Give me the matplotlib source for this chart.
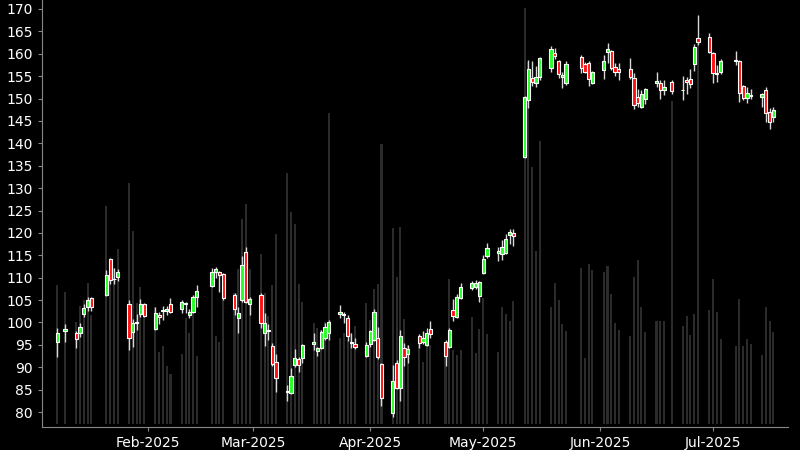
import numpy as np
import pandas as pd
import matplotlib
matplotlib.use("Agg")
import matplotlib.pyplot as plt
import matplotlib.dates as mdates

# ---- data ----
holidays = ["2025-01-09", "2025-01-20", "2025-02-17", "2025-04-18",
            "2025-05-26", "2025-06-19", "2025-07-04"]
dates = pd.bdate_range("2025-01-08", "2025-07-17", freq="C", holidays=holidays)

opens = [95.6, 98.1, 97.6, 97.6, 101.9, 103.4, 105.5, 106.1, 114.2, 109.6, 110.2, 104.1, 97.9, 99.9, 101.9, 104.1,
         98.5, 101.7, 102.5, 102.6, 104.1, 103.0, 104.1, 101.7, 102.3, 105.7, 108.1, 111.3, 111.3, 110.8, 106.1, 101.0, 105.0, 115.7, 104.1,
         106.1, 97.6, 98.2, 94.7, 91.2, 84.5, 84.2, 90.5, 91.8, 92.1, 95.2, 93.6, 94.3, 96.5, 97.6, 101.9, 101.6, 101.0, 95.4, 95.2, 92.5,
         95.2, 96.1, 96.5, 90.7, 79.8, 90.9, 85.4, 94.3, 93.0, 97.0, 95.6, 95.0, 98.5, 95.6, 94.5, 102.8, 101.2, 105.5, 107.7, 107.9, 105.9,
         111.0, 114.8, 115.5, 115.3, 115.5, 119.5, 120.0, 136.9, 149.7, 154.6, 153.5, 154.8, 156.8, 160.2, 158.4, 154.8, 153.5, 159.3, 157.7, 157.9, 153.5,
         156.4, 160.4, 160.6, 157.0, 156.6, 156.6, 154.6, 150.3, 148.1, 149.9, 153.5, 153.5, 151.9, 153.7, 151.8, 154.1, 154.4, 157.7, 163.5, 163.7,
         160.2, 155.4, 155.9, 158.3, 158.4, 152.8, 150.1, 150.5, 150.3, 151.9, 147.0, 145.9]
highs = [98.8, 99.6, 98.1, 99.9, 104.1, 105.7, 105.7, 111.7, 114.4, 112.2, 112.0, 105.0, 100.8, 101.9, 105.2, 104.3,
         103.4, 102.3, 103.7, 103.7, 105.5, 105.0, 104.6, 103.0, 106.1, 108.4, 112.2, 112.4, 111.4, 111.1, 106.6, 103.4, 114.8, 116.8, 105.7,
         106.6, 102.1, 99.6, 95.4, 93.0, 86.0, 89.8, 94.1, 92.3, 95.2, 97.6, 94.5, 98.3, 99.9, 100.5, 103.9, 102.3, 101.7, 97.6, 96.5, 95.6,
         98.3, 103.0, 99.0, 90.9, 90.5, 91.6, 98.3, 95.4, 95.0, 97.4, 98.1, 98.8, 100.3, 96.1, 98.8, 105.2, 106.4, 108.8, 109.3, 109.5, 109.3,
         115.1, 117.7, 116.8, 118.4, 119.7, 120.9, 120.9, 150.6, 158.6, 158.4, 157.3, 159.3, 161.7, 161.3, 158.6, 155.9, 158.4, 159.7, 158.2, 158.4, 156.2,
         159.7, 162.4, 160.8, 157.9, 157.9, 159.0, 155.7, 152.1, 151.9, 152.3, 155.9, 154.1, 154.1, 154.1, 155.0, 154.8, 156.6, 162.2, 168.6, 164.6,
         160.4, 157.5, 158.8, 160.6, 158.6, 153.0, 152.6, 152.1, 151.2, 152.6, 147.9, 148.1]
lows = [92.3, 95.6, 94.3, 96.7, 101.2, 102.6, 102.6, 105.8, 108.6, 108.6, 109.3, 93.9, 94.5, 98.3, 101.2, 101.2,
        98.3, 99.6, 100.5, 101.6, 102.1, 102.1, 102.1, 101.0, 102.1, 103.4, 107.9, 109.9, 106.8, 105.0, 101.7, 97.6, 104.6, 104.3, 101.7,
        98.8, 94.7, 96.1, 90.3, 84.5, 82.4, 84.0, 90.0, 88.9, 90.9, 93.8, 92.5, 94.1, 96.1, 96.1, 101.0, 99.9, 95.9, 94.3, 94.1, 92.3,
        94.5, 95.9, 91.8, 81.3, 78.9, 85.1, 82.5, 90.3, 90.9, 94.3, 95.2, 94.7, 96.5, 90.3, 94.3, 100.3, 101.0, 105.3, 107.3, 107.5, 104.6,
        110.8, 114.4, 113.7, 113.9, 115.3, 117.5, 117.1, 136.7, 147.9, 152.8, 152.6, 154.1, 155.9, 158.8, 154.6, 152.3, 153.0, 155.7, 155.7, 152.8, 153.3,
        154.4, 157.9, 156.4, 155.0, 154.1, 154.4, 147.7, 148.1, 147.9, 148.8, 152.6, 149.9, 150.8, 151.0, 149.7, 151.0, 152.3, 156.1, 162.0, 160.2,
        153.5, 153.7, 155.5, 157.5, 149.2, 149.7, 149.0, 149.9, 148.1, 144.8, 143.2, 144.8]
closes = [97.6, 98.5, 96.3, 99.0, 103.2, 105.0, 103.4, 110.6, 109.5, 109.8, 111.3, 96.5, 99.9, 100.0, 104.1, 101.4,
          102.1, 101.2, 102.6, 102.9, 102.3, 104.6, 104.3, 102.3, 105.7, 107.0, 111.3, 111.9, 110.6, 105.5, 103.0, 102.1, 112.8, 104.6, 105.2,
          99.9, 99.9, 98.4, 90.7, 87.6, 84.6, 88.0, 92.1, 90.5, 95.0, 95.6, 94.3, 97.9, 99.0, 100.1, 102.3, 101.8, 97.0, 95.5, 94.5, 95.0,
          98.1, 102.3, 92.3, 83.1, 86.9, 85.4, 97.0, 92.3, 94.1, 95.4, 96.5, 97.6, 97.4, 92.5, 98.3, 101.4, 105.7, 107.9, 108.8, 108.8, 109.0,
          114.2, 116.6, 115.9, 116.8, 118.6, 120.2, 119.3, 150.3, 156.6, 153.7, 154.8, 159.0, 161.1, 159.5, 155.5, 155.3, 157.7, 156.8, 155.9, 154.4, 155.9,
          158.4, 161.1, 156.8, 155.9, 155.9, 154.8, 148.6, 149.0, 151.0, 152.1, 153.9, 151.9, 152.6, 151.7, 151.95, 153.7, 153.2, 161.5, 162.6, 160.4,
          155.7, 155.6, 158.4, 158.45, 151.2, 150.1, 151.2, 150.6, 151.0, 146.8, 144.8, 147.4]
volumes = [34.75, 33.0, 25.5, 29.5, 31.0, 35.25, 27.25, 54.5, 36.0, 39.0, 43.75, 60.25, 48.25, 30.25, 34.25, 29.75,
           29.25, 18.0, 19.5, 14.5, 12.5, 17.5, 26.5, 22.75, 28.0, 17.0, 34.25, 22.0, 20.5, 31.0, 32.75, 38.75, 51.25, 55.0, 38.75,
           42.5, 32.75, 27.0, 34.75, 47.5, 62.75, 53.0, 50.0, 35.0, 30.5, 25.25, 24.0, 23.5, 25.5, 77.75, 21.5, 22.75, 21.0, 22.75, 24.5, 30.25,
           26.0, 33.75, 35.0, 70.0, 49.0, 36.75, 49.25, 26.25, 19.75, 20.25, 15.5, 19.75, 19.75, 16.75, 36.25, 18.5, 17.25, 18.5, 26.75, 17.75, 23.75,
           31.5, 22.5, 18.0, 29.25, 27.5, 25.75, 30.75, 104.0, 90.5, 64.25, 43.25, 70.75, 29.25, 35.25, 31.0, 25.0, 23.25, 39.0, 16.5, 40.0, 38.5,
           38.0, 39.5, 32.5, 25.25, 23.5, 22.0, 36.75, 41.0, 29.25, 23.0, 25.75, 25.75, 25.75, 80.75, 24.5, 27.0, 22.25, 27.5, 95.25, 28.5,
           36.25, 28.0, 21.25, 19.5, 31.25, 19.5, 21.25, 20.0, 17.25, 29.25, 25.75, 23.0]

y_ticks = list(range(80, 171, 5))

# ---- plot ----
fig = plt.figure(figsize=(8, 4.5), dpi=100, facecolor="black")
ax = fig.add_axes([0.0525, 0.051, 0.9325, 0.949])
axv = ax.twinx()
ax.set_zorder(axv.get_zorder() + 1)
ax.patch.set_visible(False)
axv.set_facecolor("black")

x = mdates.date2num(dates.to_pydatetime())
o = np.array(opens); h = np.array(highs); l = np.array(lows); c = np.array(closes)
v = np.array(volumes)

axv.bar(x, v, width=0.55, color="#2b2b2b", zorder=1)
axv.set_ylim(-0.75, 106)
axv.axis("off")

ax.vlines(x, l, h, color="#d8d8d8", linewidth=1.0, zorder=2)
up = c >= o
body_bottom = np.minimum(o, c)
body_h = np.maximum(np.abs(c - o), 0.2)
colors = np.where(up, "#22ff22", "#ff1010")
ax.bar(x, body_h, bottom=body_bottom, width=0.85, color=colors,
       edgecolor="white", linewidth=0.8, zorder=3)

ax.set_ylim(76.65, 172.0)
ax.set_xlim(x[0] - 4.1, x[-1] + 3.9)
ax.set_yticks(y_ticks)
ax.xaxis.set_major_locator(mdates.MonthLocator())
ax.xaxis.set_major_formatter(mdates.DateFormatter("%b-%Y"))

for s in ["top", "right"]:
    ax.spines[s].set_visible(False)
for s in ["left", "bottom"]:
    ax.spines[s].set_color("#888888")
ax.tick_params(colors="#888888", labelcolor="white", labelsize=10, length=3)

fig.savefig("out.png", dpi=100, facecolor="black")
